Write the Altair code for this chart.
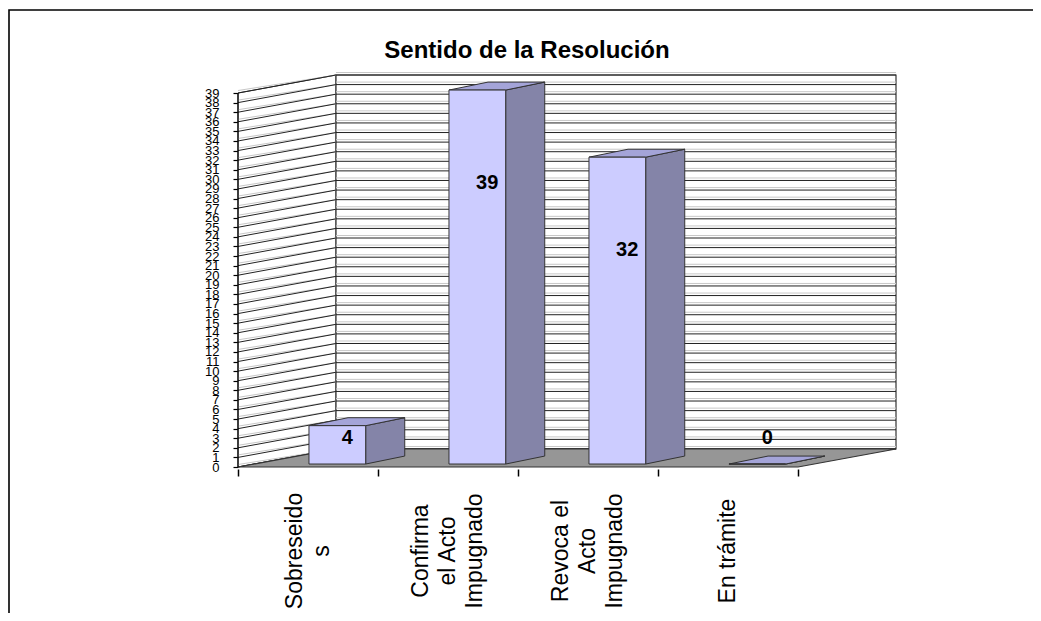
import altair as alt
import pandas as pd

# ---------------- data ----------------
title_text = "Sentido de la Resolución"
categories = ["Sobreseidos", "Confirma el Acto Impugnado", "Revoca el Acto Impugnado", "En trámite"]
category_labels = ["Sobreseido\ns", "Confirma\nel Acto\nImpugnado", "Revoca el\nActo\nImpugnado", "En trámite"]
values = [4, 39, 32, 0]
y_ticks = list(range(0, 40))
x_ticks = [0, 1, 2, 3, 4]
y_max = 39

# ---------------- geometry / style ----------------
FONT = "Liberation Sans"
N = len(categories)
DX, DY = 0.7, 1.88          # wall depth (category units, value units)
BAR_X, BAR_W = 0.507, 0.405  # bar front face position inside a category
BAR_Y0 = 0.31                # bar base lift
BDX, BDY = 0.279, 0.83       # bar depth
W, H = 658, 392
LH = 27                      # category label line height (px)
FRONT, SIDE, TOP, FLOOR, EDGE = "#ccccff", "#8484a8", "#a4a4d8", "#969696", "#333333"

xs = alt.Scale(domain=[0, N + DX], nice=False, zero=False)
ys = alt.Scale(domain=[0, y_max + DY], nice=False, zero=False)

Y_AX = alt.Axis(values=y_ticks, title=None, domain=False, grid=False, tickSize=5, tickColor="black",
                tickWidth=1.2, labelFontSize=13, labelFont=FONT, labelColor="black", labelPadding=14,
                labelOverlap=False, labelFlush=False, labelBound=False)
X_AX = alt.Axis(values=x_ticks, labels=False, title=None, domain=False, grid=False,
                tickSize=7, tickColor="black", tickWidth=1.5, offset=2)

# ---------------- derived tables ----------------
left_wall = pd.DataFrame({"x": [0, DX], "y": [0, DY], "y2": [y_max, y_max + DY]})
back_wall = pd.DataFrame({"x": [DX], "x2": [N + DX], "y": [DY], "y2": [y_max + DY]})
floor = pd.DataFrame({"y": [0, DY], "x": [0, DX], "x2": [N, N + DX]})
grid = pd.DataFrame({"v": y_ticks})
grid["vb"] = grid["v"] + DY
grid["x0"] = 0.0
grid["xd"] = DX
grid["xe"] = N + DX
axis_line = pd.DataFrame({"x": [0], "y": [0], "y2": [y_max]})

bars = pd.DataFrame({"i": range(N), "cat": categories, "value": values, "lab": category_labels})
bars["x"] = bars["i"] + BAR_X
bars["x2"] = bars["x"] + BAR_W
bars["y"] = BAR_Y0
bars["y2"] = BAR_Y0 + bars["value"]

side_rows, top_rows = [], []
for i, v in enumerate(values):
    xr = i + BAR_X + BAR_W
    side_rows.append({"cat": categories[i], "x": xr, "y": BAR_Y0, "y2": BAR_Y0 + v})
    side_rows.append({"cat": categories[i], "x": xr + BDX, "y": BAR_Y0 + BDY, "y2": BAR_Y0 + v + BDY})
    top_rows.append({"cat": categories[i], "y": BAR_Y0 + v, "x": i + BAR_X, "x2": xr})
    top_rows.append({"cat": categories[i], "y": BAR_Y0 + v + BDY, "x": i + BAR_X + BDX, "x2": xr + BDX})
sides = pd.DataFrame(side_rows)
tops = pd.DataFrame(top_rows)


def X(f):
    return alt.X(f, scale=xs, axis=X_AX)


def Y(f):
    return alt.Y(f, scale=ys, axis=Y_AX)


# ---------------- layers ----------------
frame = alt.Chart(pd.DataFrame({"k": [0]})).mark_rect(
    filled=False, stroke="black", strokeWidth=1.6
).encode(x=alt.value(-229), x2=alt.value(W + 400), y=alt.value(-65), y2=alt.value(H + 400))

lw = alt.Chart(left_wall).mark_area(orient="vertical", fill="white", stroke=EDGE, strokeWidth=1).encode(
    x=X("x:Q"), y=Y("y:Q"), y2="y2:Q",
)

bw = alt.Chart(back_wall).mark_rect(fill="white", stroke=EDGE, strokeWidth=1.2).encode(
    x=X("x:Q"), x2="x2:Q", y=Y("y:Q"), y2="y2:Q",
)

grid_left_light = alt.Chart(grid).mark_rule(color="#c8c8c8", strokeWidth=1, yOffset=-2.5).encode(
    x=X("x0:Q"), x2="xd:Q", y=Y("v:Q"), y2="vb:Q",
)
grid_left = alt.Chart(grid).mark_rule(color="#222222", strokeWidth=1).encode(
    x=X("x0:Q"), x2="xd:Q", y=Y("v:Q"), y2="vb:Q",
)
grid_back_light = alt.Chart(grid).mark_rule(color="#c8c8c8", strokeWidth=1, yOffset=-2.5).encode(
    x=X("xd:Q"), x2="xe:Q", y=Y("vb:Q"),
)
grid_back = alt.Chart(grid).mark_rule(color="#222222", strokeWidth=1).encode(
    x=X("xd:Q"), x2="xe:Q", y=Y("vb:Q"),
)

fl = alt.Chart(floor).mark_area(orient="horizontal", fill=FLOOR, stroke=EDGE, strokeWidth=1.2).encode(
    y=Y("y:Q"), x=X("x:Q"), x2="x2:Q",
)

yline = alt.Chart(axis_line).mark_rule(color="black", strokeWidth=1.2).encode(
    x=X("x:Q"), y=Y("y:Q"), y2="y2:Q",
)

side_faces = alt.Chart(sides).mark_area(orient="vertical", fill=SIDE, stroke=EDGE, strokeWidth=1).encode(
    x=X("x:Q"), y=Y("y:Q"), y2="y2:Q", detail="cat:N",
)
top_faces = alt.Chart(tops).mark_area(orient="horizontal", fill=TOP, stroke=EDGE, strokeWidth=1).encode(
    y=Y("y:Q"), x=X("x:Q"), x2="x2:Q", detail="cat:N",
)
front_faces = alt.Chart(bars).mark_rect(fill=FRONT, stroke=EDGE, strokeWidth=1).encode(
    x=X("x:Q"), x2="x2:Q", y=Y("y:Q"), y2="y2:Q",
)

value_labels = alt.Chart(bars).transform_calculate(
    lx="datum.i + 0.78", ly="max(datum.value - 9.4, 3.0)"
).mark_text(font=FONT, fontSize=20, fontWeight="bold", color="black", baseline="middle").encode(
    x=X("lx:Q"), y=Y("ly:Q"), text="value:Q",
)

cat_labels = alt.Chart(bars).transform_calculate(
    nl="length(split(datum.lab, '\\n'))",
    cx=f"datum.i + 0.5 - (datum.nl - 1) * {LH} / 2 / {W / (N + DX)}",
).mark_text(
    font=FONT, fontSize=23, lineHeight=LH, angle=270, align="center", baseline="middle",
    lineBreak="\n", color="black"
).encode(
    x=X("cx:Q"),
    y=alt.value(476),
    text="lab:N",
)

title = alt.Chart(pd.DataFrame({"t": [title_text]})).mark_text(
    font=FONT, fontSize=24, fontWeight="bold", color="black", align="center", baseline="alphabetic"
).encode(x=alt.value(289), y=alt.value(-17), text="t:N")

chart = alt.layer(
    frame, lw, bw, grid_left_light, grid_back_light, grid_left, grid_back, fl, yline,
    side_faces, top_faces, front_faces, value_labels, cat_labels, title,
).properties(
    width=W, height=H,
    autosize=alt.AutoSizeParams(type="none"),
    padding={"left": 230, "top": 67, "right": 137, "bottom": 146},
    background="white",
).configure_view(strokeWidth=0)

chart.save("out.html", embed_options={"renderer": "svg", "actions": False})
